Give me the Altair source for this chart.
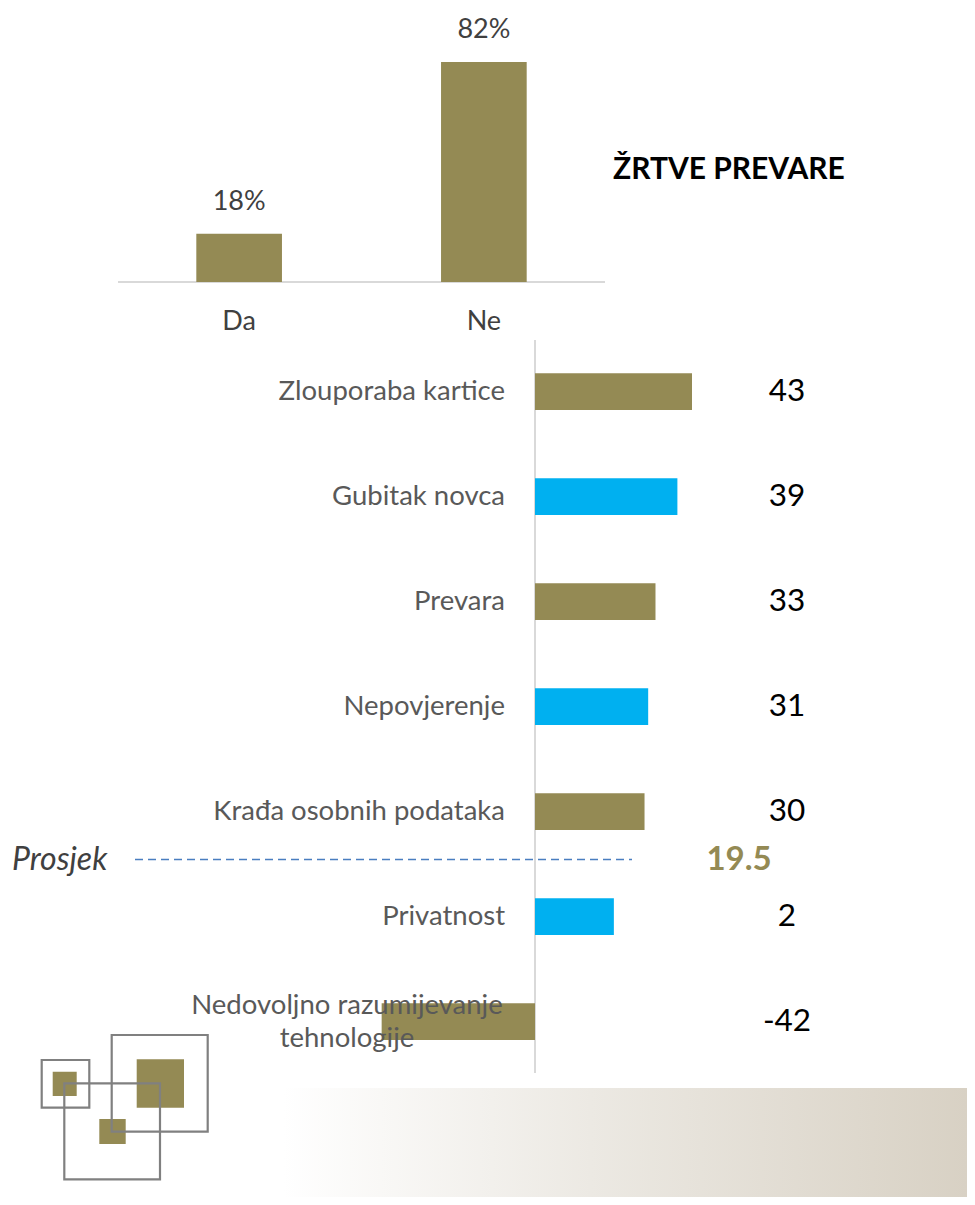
import altair as alt
import pandas as pd

# ---------------- data ----------------
top_categories = ["Da", "Ne"]
top_values = [18, 82]
top_labels = ["18%", "82%"]

categories = [
    "Zlouporaba kartice",
    "Gubitak novca",
    "Prevara",
    "Nepovjerenje",
    "Krađa osobnih podataka",
    "Privatnost",
    "Nedovoljno razumijevanje\ntehnologije",
]
bar_values = [43, 39, 33, 31, 30, 21.6, -42]
value_labels = ["43", "39", "33", "31", "30", "2", "-42"]
groups = ["a", "b", "a", "b", "a", "b", "a"]
prosjek_value = 19.5

OLIVE = "#948A54"
BLUE = "#00B0F0"
FONT = "Lato"

top_df = pd.DataFrame({"cat": top_categories, "val": top_values, "label": top_labels})
bot_df = pd.DataFrame({"cat": categories, "val": bar_values, "label": value_labels, "grp": groups})
one = pd.DataFrame({"k": [0]})

# ---------------- top chart ----------------
xs_top = alt.Scale(domain=top_categories, range=[110, 597], paddingInner=0.65, paddingOuter=0.32)
ys_top = alt.Scale(domain=[0, 82], range=[274, 54], nice=False, zero=True)

tb = alt.Chart(top_df)
top_bars = tb.mark_bar(color=OLIVE).encode(
    x=alt.X("cat:N", scale=xs_top, axis=None, sort=None),
    y=alt.Y("val:Q", scale=ys_top, axis=None),
)
top_pct = tb.mark_text(font=FONT, fontSize=27, color="#404040", baseline="middle", dy=-32).encode(
    x=alt.X("cat:N", scale=xs_top, axis=None, sort=None),
    y=alt.Y("val:Q", scale=ys_top, axis=None),
    text="label:N",
)
top_cat = tb.mark_text(font=FONT, fontSize=27, color="#404040", baseline="middle").encode(
    x=alt.X("cat:N", scale=xs_top, axis=None, sort=None),
    y=alt.value(314),
    text="cat:N",
)
top_axis = alt.Chart(one).mark_rule(color="#D9D9D9", strokeWidth=2).encode(
    x=alt.value(110), x2=alt.value(597),
    y=alt.Y(datum=0, scale=ys_top, axis=None),
)
top_layer = alt.layer(top_axis, top_bars, top_pct, top_cat)

title = alt.Chart(one).mark_text(
    text="ŽRTVE PREVARE", font=FONT, fontSize=30, fontWeight="bold", color="#000000",
    align="left", baseline="middle",
).encode(x=alt.value(605), y=alt.value(162))

# ---------------- bottom chart ----------------
xs_bot = alt.Scale(domain=[0, 43], range=[527, 684], nice=False, zero=True)
ys_bot = alt.Scale(domain=categories, range=[331, 1066], paddingInner=0.65, paddingOuter=0.325)

bb = alt.Chart(bot_df)
ybase = alt.Y("cat:N", scale=ys_bot, sort=None, axis=None)
bot_axis = alt.Chart(one).mark_rule(color="#D9D9D9", strokeWidth=2).encode(
    x=alt.X(datum=0, scale=xs_bot, axis=None),
    y=alt.value(332), y2=alt.value(1065),
)
bot_bars = bb.mark_bar().encode(
    x=alt.X("val:Q", scale=xs_bot, axis=None),
    y=ybase,
    color=alt.Color("grp:N", scale=alt.Scale(domain=["a", "b"], range=[OLIVE, BLUE]), legend=None),
)
cat_single = bb.transform_filter("indexof(datum.cat, '\\n') < 0").mark_text(
    font=FONT, fontSize=27.5, color="#595959", align="right", baseline="middle", dx=-30,
).encode(x=alt.X(datum=0, scale=xs_bot, axis=None), y=ybase, text="cat:N")
cat_multi = bb.transform_filter("indexof(datum.cat, '\\n') >= 0").mark_text(
    font=FONT, fontSize=27.5, color="#595959", align="center", baseline="middle", dx=-188, dy=-16,
    lineBreak="\n", lineHeight=33,
).encode(x=alt.X(datum=0, scale=xs_bot, axis=None), y=ybase, text="cat:N")
val_text = bb.mark_text(font=FONT, fontSize=31.5, color="#000000", align="center", baseline="middle").encode(
    x=alt.value(779), y=ybase, text="label:N",
)
pros_rule = alt.Chart(one).mark_rule(color="#4A7EC0", strokeWidth=1.6, strokeDash=[8, 5], yOffset=-57).encode(
    x=alt.value(127), x2=alt.value(624),
    y=alt.Y(datum="Privatnost", scale=ys_bot, axis=None),
)
pros_lbl = alt.Chart(one).mark_text(
    text="Prosjek", font=FONT, fontSize=32, fontStyle="italic", color="#404040",
    align="left", baseline="middle", yOffset=-57,
).encode(x=alt.value(4), y=alt.Y(datum="Privatnost", scale=ys_bot, axis=None))
pros_val = alt.Chart(pd.DataFrame({"v": [prosjek_value]})).mark_text(
    font=FONT, fontSize=33, fontWeight="bold", color=OLIVE,
    align="center", baseline="middle", yOffset=-57,
).encode(x=alt.value(731), y=alt.Y(datum="Privatnost", scale=ys_bot, axis=None),
         text=alt.Text("v:Q", format=".1f"))

bot_layer = alt.layer(bot_axis, bot_bars, cat_single, cat_multi, val_text, pros_rule, pros_lbl, pros_val)

# ---------------- decoration ----------------
grad = alt.Chart(one).mark_rect(
    color=alt.LinearGradient(
        gradient="linear", x1=0, x2=1, y1=0, y2=0,
        stops=[alt.GradientStop(color="#FFFFFF", offset=0),
               alt.GradientStop(color="#ECE9E3", offset=0.45),
               alt.GradientStop(color="#D8D1C4", offset=1)],
    )
).encode(x=alt.value(275), x2=alt.value(959), y=alt.value(1080), y2=alt.value(1189))


def square(x0, y0, x1, y1, filled):
    if filled:
        m = alt.Chart(one).mark_rect(color=OLIVE)
    else:
        m = alt.Chart(one).mark_rect(fill=None, stroke="#808080", strokeWidth=2.2)
    return m.encode(x=alt.value(x0), x2=alt.value(x1), y=alt.value(y0), y2=alt.value(y1))


logo = alt.layer(
    square(44.7, 1063.7, 68.7, 1088, True),
    square(128.7, 1051.3, 176, 1099.7, True),
    square(91.3, 1111, 117.7, 1136, True),
    square(33.7, 1052, 81.3, 1099.7, False),
    square(103.7, 1027, 199.7, 1123.7, False),
    square(56.3, 1075.3, 152, 1171.3, False),
)

chart = alt.layer(grad, logo, top_layer, title, bot_layer).resolve_scale(
    x="independent", y="independent", color="independent"
).properties(width=959, height=1189, padding=0, autosize=alt.AutoSizeParams(type="none")).configure_view(
    stroke=None
)

chart.save("out.html", embed_options={"renderer": "svg", "actions": False})
